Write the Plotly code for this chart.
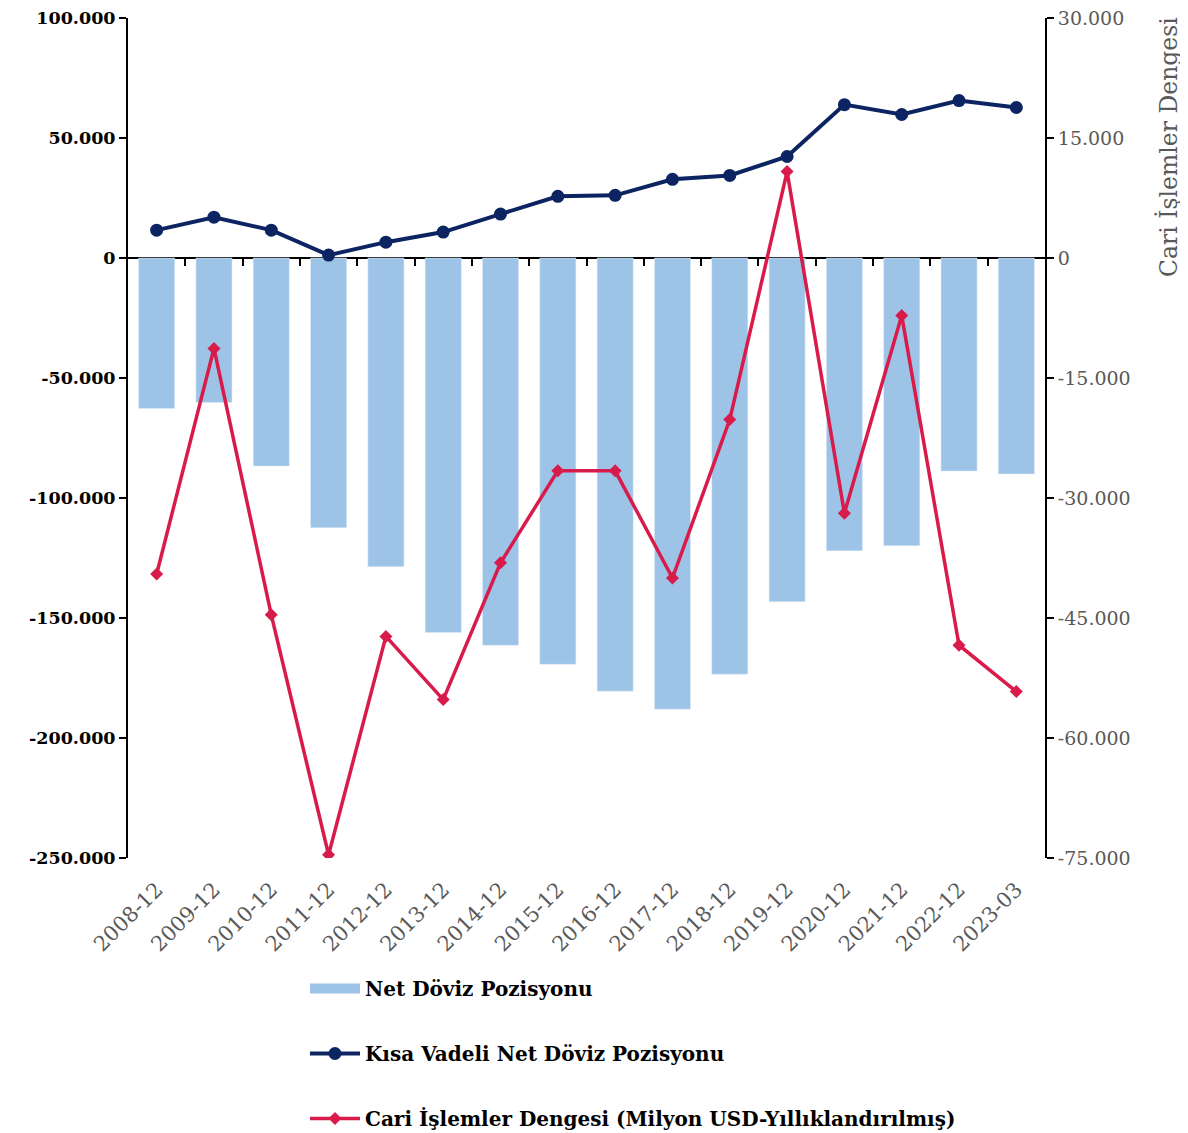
import plotly.graph_objects as go

# values (million USD)
periods = ["2008-12", "2009-12", "2010-12", "2011-12", "2012-12", "2013-12", "2014-12", "2015-12",
           "2016-12", "2017-12", "2018-12", "2019-12", "2020-12", "2021-12", "2022-12", "2023-03"]
net_fx = [-62700, -60200, -86700, -112400, -128600, -156000, -161400, -169300,
          -180500, -188000, -173400, -143200, -122000, -119900, -88800, -90000]
short_net_fx = [11600, 17000, 11600, 1200, 6600, 10800, 18300, 25700,
                26100, 32800, 34400, 42300, 63900, 59800, 65600, 62700]
current_account = [-39500, -11300, -44600, -74600, -47300, -55200, -38100, -26600,
                   -26600, -40000, -20200, 10800, -31900, -7200, -48400, -54200]

left_ticks = list(range(-250000, 100001, 50000))
right_ticks = list(range(-75000, 30001, 15000))


def fmt(v):
    return "{:,}".format(v).replace(",", ".")


FONT = "DejaVu Serif"
BAR_BLUE = "#9dc3e6"
NAVY = "#0c2461"
RED = "#d81b4a"

fig = go.Figure()
fig.add_trace(go.Bar(
    x=periods, y=net_fx, name="Net Döviz Pozisyonu",
    marker_color=BAR_BLUE, width=0.63, showlegend=False,
))
# legend entry for the bars (wide rectangle swatch); also carries the boundary tick axis
fig.add_trace(go.Scatter(
    x=[None], y=[None], xaxis="x2", name="Net Döviz Pozisyonu",
    mode="lines", line=dict(color=BAR_BLUE, width=14),
    legendgroup="a",
))
fig.add_trace(go.Scatter(
    x=periods, y=short_net_fx, name="Kısa Vadeli Net Döviz Pozisyonu",
    mode="lines+markers",
    line=dict(color=NAVY, width=4),
    marker=dict(symbol="circle", size=13, color=NAVY),
    legendgroup="b",
))
fig.add_trace(go.Scatter(
    x=periods, y=current_account, name="Cari İşlemler Dengesi (Milyon USD-Yıllıklandırılmış)",
    mode="lines+markers", yaxis="y2",
    line=dict(color=RED, width=3.5),
    marker=dict(symbol="diamond", size=10, color=RED),
    legendgroup="c",
))

fig.update_layout(
    width=1180, height=1125,
    margin=dict(l=120, r=143, t=10, b=275),
    plot_bgcolor="white", paper_bgcolor="white",
    font=dict(family=FONT, color="black"),
    xaxis=dict(
        type="category", categoryorder="array", categoryarray=periods,
        range=[-0.5, 15.5], showline=False, showgrid=False, ticks="",
        tickangle=-45, tickfont=dict(size=21, color="#595959"),
        ticklabelstandoff=14, automargin=False,
    ),
    xaxis2=dict(
        overlaying="x", anchor="free", position=250 / 350,
        range=[-0.5, 15.5], tickvals=[i + 0.5 for i in range(15)],
        showticklabels=False, showgrid=False, showline=False, zeroline=False,
        ticks="outside", ticklen=7, tickwidth=2, tickcolor="black", automargin=False,
    ),
    yaxis=dict(
        range=[-250000, 100000], tickvals=left_ticks, ticktext=[fmt(v) for v in left_ticks],
        showgrid=False, showline=True, linecolor="black", linewidth=2,
        ticks="outside", ticklen=7, tickwidth=2, tickcolor="black",
        zeroline=True, zerolinecolor="black", zerolinewidth=2,
        tickfont=dict(size=17.5, color="black", family=FONT, weight="bold"),
        automargin=False, ticklabeloverflow="allow",
    ),
    yaxis2=dict(
        overlaying="y", side="right", range=[-75000, 30000],
        tickvals=right_ticks, ticktext=[fmt(v) for v in right_ticks],
        showgrid=False, showline=True, linecolor="black", linewidth=2,
        ticks="outside", ticklen=7, tickwidth=2, tickcolor="black", zeroline=False,
        tickfont=dict(size=19, color="#595959"),
        automargin=False, ticklabeloverflow="allow",
    ),
    annotations=[dict(
        text="Cari İşlemler Dengesi", textangle=-90,
        xref="paper", yref="paper", x=1.1345, y=1.004, xanchor="center", yanchor="top",
        showarrow=False, font=dict(size=23.5, color="#595959", family=FONT),
    )],
    legend=dict(
        x=0.193, y=0.1458, xanchor="left", yanchor="top", yref="container",
        orientation="v", traceorder="grouped", tracegroupgap=36,
        font=dict(size=20, color="black", family=FONT, weight="bold"),
        bgcolor="rgba(0,0,0,0)", itemwidth=50,
    ),
    bargap=0.37,
)

fig.write_html("out.html")
